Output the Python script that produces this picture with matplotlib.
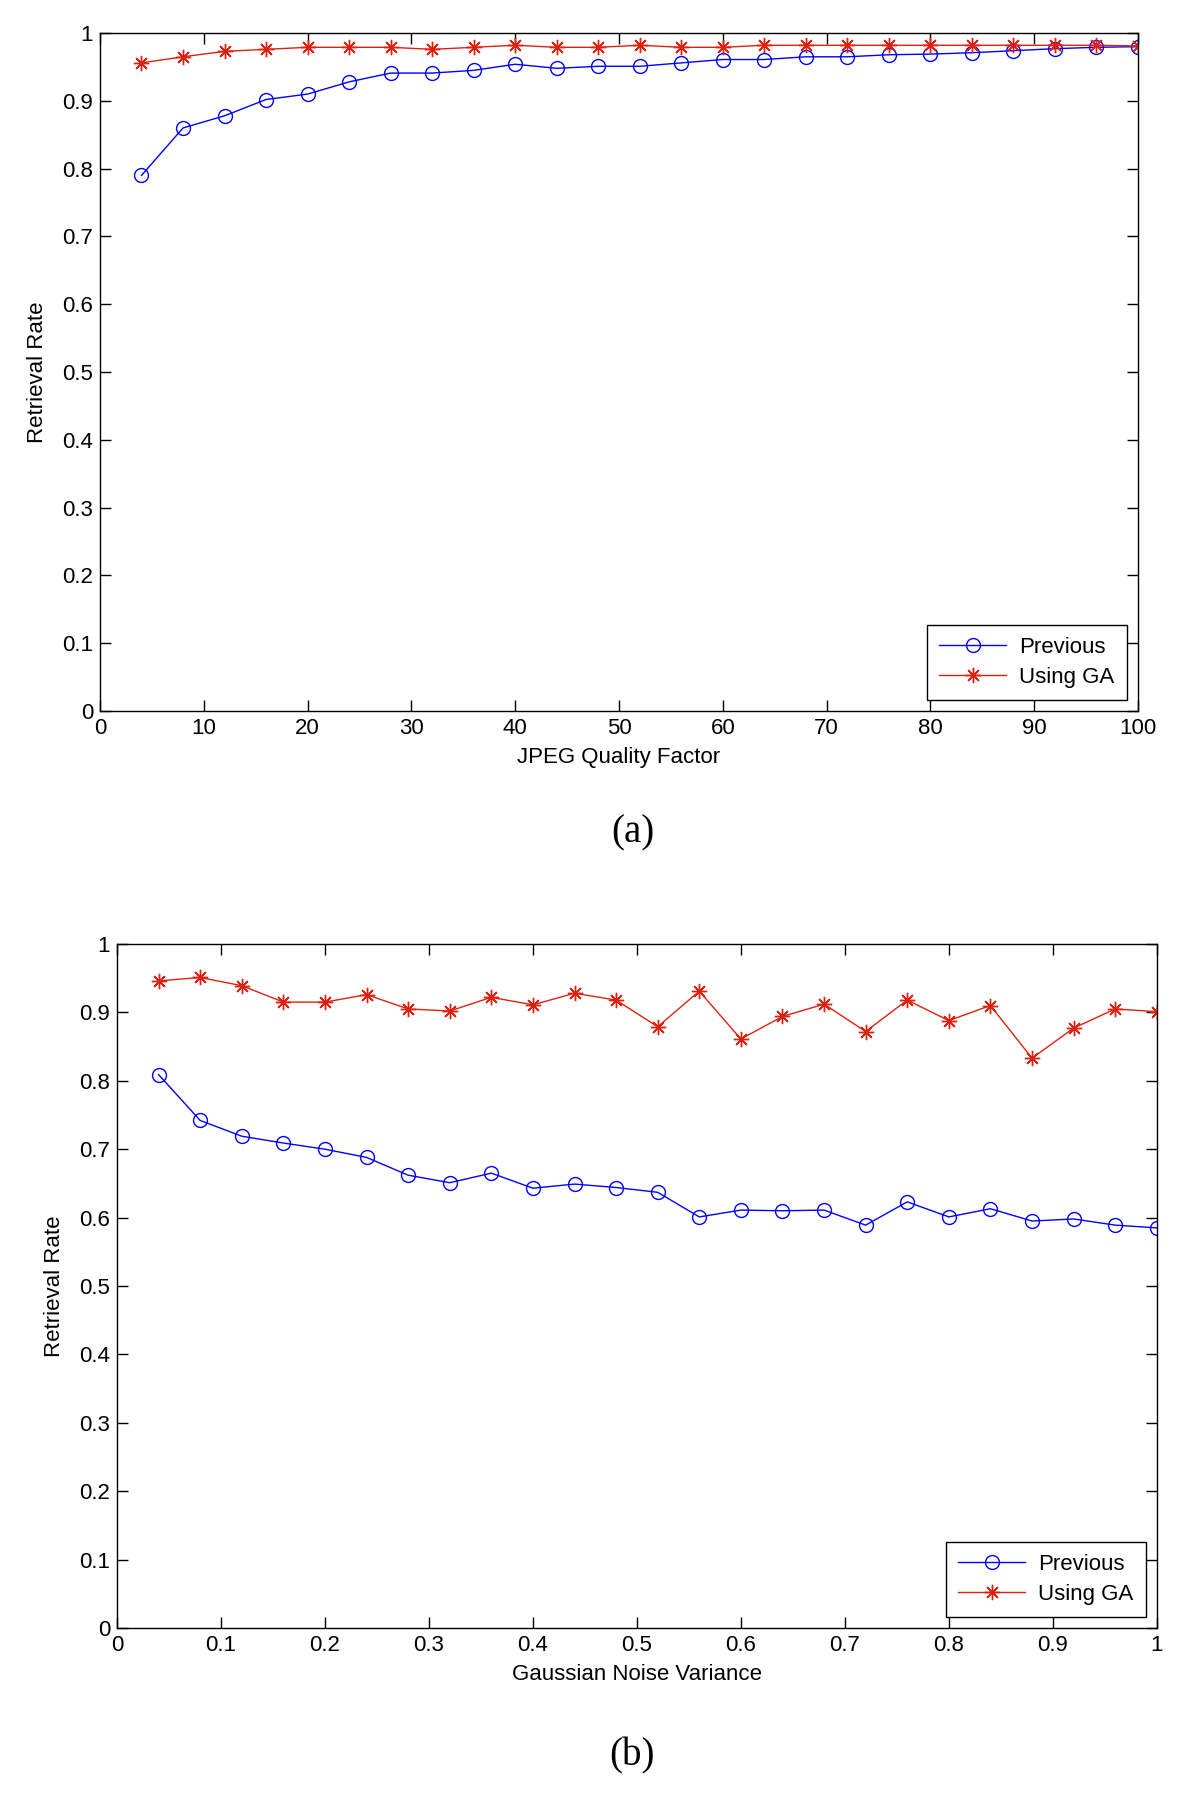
import numpy as np
import matplotlib.pyplot as plt

# (a) JPEG compression
jpeg_q = [4, 8, 12, 16, 20, 24, 28, 32, 36, 40, 44, 48, 52, 56, 60, 64, 68, 72, 76, 80, 84, 88, 92, 96, 100]
jpeg_prev = [0.790, 0.860, 0.878, 0.902, 0.910, 0.928, 0.941, 0.941, 0.945, 0.954, 0.948, 0.951, 0.951,
             0.956, 0.961, 0.961, 0.965, 0.965, 0.968, 0.969, 0.971, 0.974, 0.977, 0.979, 0.980]
jpeg_ga = [0.956, 0.965, 0.973, 0.976, 0.979, 0.979, 0.979, 0.976, 0.979, 0.982, 0.979, 0.979, 0.982,
           0.979, 0.979, 0.982, 0.982, 0.982, 0.982, 0.982, 0.982, 0.982, 0.982, 0.982, 0.981]

# (b) Gaussian noise
noise_var = [0.04, 0.08, 0.12, 0.16, 0.20, 0.24, 0.28, 0.32, 0.36, 0.40, 0.44, 0.48, 0.52,
             0.56, 0.60, 0.64, 0.68, 0.72, 0.76, 0.80, 0.84, 0.88, 0.92, 0.96, 1.00]
noise_prev = [0.809, 0.742, 0.719, 0.709, 0.700, 0.688, 0.662, 0.651, 0.665, 0.643, 0.649, 0.644, 0.637,
              0.601, 0.611, 0.610, 0.611, 0.589, 0.623, 0.601, 0.613, 0.595, 0.598, 0.589, 0.585]
noise_ga = [0.946, 0.951, 0.939, 0.915, 0.915, 0.926, 0.905, 0.902, 0.922, 0.911, 0.928, 0.918, 0.879,
            0.931, 0.861, 0.894, 0.912, 0.872, 0.918, 0.888, 0.910, 0.833, 0.877, 0.905, 0.901]

BLUE = '#0000ff'
RED = '#e0200f'
plt.rcParams['font.family'] = ['Liberation Sans', 'DejaVu Sans']

fig = plt.figure(figsize=(12, 17.97), dpi=100)


def panel(rect, x, prev, ga, xticks, xticklabels, xlim, xlabel, letter, letter_y):
    ax = fig.add_axes(rect)
    ax.plot(x, prev, '-', color=BLUE, lw=1.0, marker='o', ms=10, mfc='none',
            mec=BLUE, mew=1.0, label='Previous')
    ax.plot(x, ga, '-', color=RED, lw=1.0, marker=(8, 2, 0), ms=11,
            mec=RED, mew=1.0, label='Using GA')
    ax.set_xlim(*xlim)
    ax.set_ylim(0, 1)
    ax.set_xticks(xticks)
    ax.set_xticklabels(xticklabels)
    yt = np.round(np.arange(0, 1.01, 0.1), 1)
    ax.set_yticks(yt)
    ax.set_yticklabels(['0'] + [f'{v:g}' for v in yt[1:-1]] + ['1'])
    ax.tick_params(direction='in', length=8, width=1, top=True, right=True,
                   labelsize=16, pad=5)
    for s in ax.spines.values():
        s.set_linewidth(1.0)
    ax.set_xlabel(xlabel, fontsize=16, labelpad=6)
    ax.set_ylabel('Retrieval Rate', fontsize=16, labelpad=10)
    leg = ax.legend(loc='lower right', fontsize=16, fancybox=False, framealpha=1,
                    edgecolor='black', borderaxespad=0.5, handlelength=3.0,
                    borderpad=0.55, labelspacing=0.4, handletextpad=0.6)
    leg.get_frame().set_linewidth(1.0)
    fig.text(0.527, letter_y, letter, ha='center', va='center', fontsize=28,
             family='Liberation Serif')
    return ax


panel([0.0833, 0.6043, 0.865, 0.3773], jpeg_q, jpeg_prev, jpeg_ga,
      list(range(0, 101, 10)), [str(v) for v in range(0, 101, 10)], (0, 100),
      'JPEG Quality Factor', '(a)', 1 - 833 / 1797)

bt = np.round(np.arange(0, 1.01, 0.1), 1)
panel([0.0975, 0.0940, 0.8665, 0.3807], noise_var, noise_prev, noise_ga,
      bt, ['0'] + [f'{v:g}' for v in bt[1:-1]] + ['1'], (0, 1),
      'Gaussian Noise Variance', '(b)', 1 - 1756 / 1797)

fig.savefig('out.png', dpi=100)
